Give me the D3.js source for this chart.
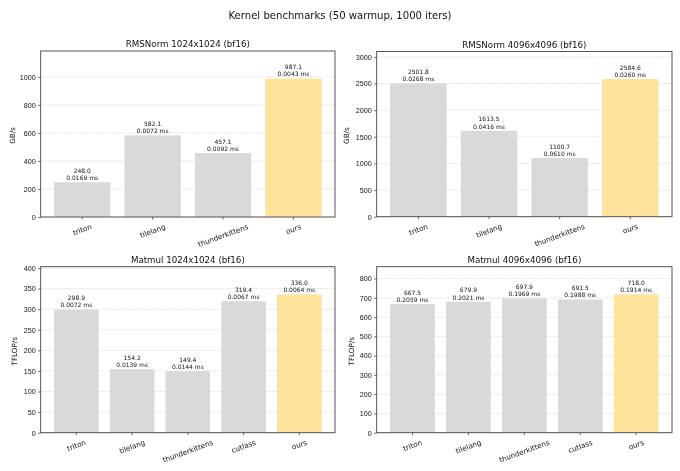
<!DOCTYPE html>
<html>
  <head>
    <meta charset="UTF-8" />
    <script src="https://cdnjs.cloudflare.com/ajax/libs/d3/7.8.5/d3.min.js"></script>
    <style>
      body { margin: 0; background: #fff; }
      svg { display: block; font-family: "DejaVu Sans", sans-serif; will-change: transform; }
      text { fill: #111; }
      .domain { stroke: none; }
      .grid line { stroke: #d4d4d4; stroke-dasharray: 2.2, 1; stroke-width: 0.6; }
      .frame { fill: none; stroke: #444; stroke-width: 0.9; }
    </style>
  </head>
  <body>
    <svg id="fig" width="680" height="471"></svg>
    <script>
      const rmsKernels = ["triton", "tilelang", "thunderkittens", "ours"];
      const mmKernels = ["triton", "tilelang", "thunderkittens", "cutlass", "ours"];

      const rms1kGbs = [248.0, 582.1, 457.1, 987.1];
      const rms1kMs = [0.0169, 0.0072, 0.0092, 0.0043];
      const rms4kGbs = [2501.8, 1613.5, 1100.7, 2584.6];
      const rms4kMs = [0.0268, 0.0416, 0.061, 0.026];
      const mm1kTflops = [298.9, 154.2, 149.4, 319.4, 336.0];
      const mm1kMs = [0.0072, 0.0139, 0.0144, 0.0067, 0.0064];
      const mm4kTflops = [667.5, 679.9, 697.9, 691.5, 718.0];
      const mm4kMs = [0.2059, 0.2021, 0.1969, 0.1988, 0.1914];

      const rms1kTicks = [0, 200, 400, 600, 800, 1000];
      const rms4kTicks = [0, 500, 1000, 1500, 2000, 2500, 3000];
      const mm1kTicks = [0, 50, 100, 150, 200, 250, 300, 350, 400];
      const mm4kTicks = [0, 100, 200, 300, 400, 500, 600, 700, 800];

      const svg = d3.select("#fig");

      svg.append("text")
        .attr("x", 340).attr("y", 15)
        .attr("text-anchor", "middle")
        .attr("dominant-baseline", "central")
        .style("font-size", "10.1px")
        .text("Kernel benchmarks (50 warmup, 1000 iters)");

      function panel(box, title, ylabel, labelX, cats, vals, times, ticks) {
        const g = svg.append("g");
        const n = cats.length;
        const x = d3.scaleBand()
          .domain(cats)
          .range([box.x0, box.x1])
          .paddingInner(0.2)
          .paddingOuter(0.05 * (n - 0.2));
        const y = d3.scaleLinear()
          .domain([0, d3.max(vals) * 1.2])
          .range([box.y1, box.y0]);

        // grid below the bars
        g.append("g")
          .attr("class", "grid")
          .selectAll("line")
          .data(ticks)
          .join("line")
          .attr("x1", box.x0).attr("x2", box.x1)
          .attr("y1", d => y(d)).attr("y2", d => y(d));

        g.selectAll("rect.bar")
          .data(cats)
          .join("rect")
          .attr("class", "bar")
          .attr("x", d => x(d))
          .attr("width", x.bandwidth())
          .attr("y", (d, i) => y(vals[i]))
          .attr("height", (d, i) => box.y1 - y(vals[i]))
          .attr("fill", d => d === "ours" ? "#fee39c" : "#d9d9d9");

        const lbl = g.selectAll("text.val")
          .data(cats)
          .join("text")
          .attr("class", "val")
          .attr("text-anchor", "middle")
          .style("font-size", "6px");
        lbl.append("tspan")
          .attr("x", d => x(d) + x.bandwidth() / 2)
          .attr("y", (d, i) => y(vals[i]) - 9.4)
          .text((d, i) => vals[i].toFixed(1));
        lbl.append("tspan")
          .attr("x", d => x(d) + x.bandwidth() / 2)
          .attr("y", (d, i) => y(vals[i]) - 2.2)
          .text((d, i) => times[i].toFixed(4) + " ms");

        g.append("rect")
          .attr("class", "frame")
          .attr("x", box.x0).attr("y", box.y0)
          .attr("width", box.x1 - box.x0).attr("height", box.y1 - box.y0);

        const yAxis = g.append("g")
          .attr("transform", `translate(${box.x0},0)`)
          .call(d3.axisLeft(y).tickValues(ticks).tickFormat(d3.format("d"))
            .tickSize(2.5).tickPadding(2.5));
        yAxis.selectAll("line").attr("stroke", "#444").attr("stroke-width", 0.8);
        yAxis.selectAll("text").style("font-size", "7.2px").attr("fill", "#111");

        const xAxis = g.append("g")
          .attr("transform", `translate(0,${box.y1})`)
          .call(d3.axisBottom(x).tickSize(2.5).tickFormat(""));
        xAxis.selectAll("line").attr("stroke", "#444").attr("stroke-width", 0.8);

        // rotated category labels, bbox centred under the tick
        const rot = 20 * Math.PI / 180;
        g.selectAll("text.cat")
          .data(cats)
          .join("text")
          .attr("class", "cat")
          .attr("text-anchor", "middle")
          .attr("dominant-baseline", "central")
          .style("font-size", "7.2px")
          .text(d => d)
          .each(function (d) {
            const L = this.getComputedTextLength();
            const h = 8.4;
            const bh = L * Math.sin(rot) + h * Math.cos(rot);
            const cx = x(d) + x.bandwidth() / 2;
            const cy = box.y1 + 5.5 + bh / 2;
            d3.select(this)
              .attr("x", cx).attr("y", cy)
              .attr("transform", `rotate(-20,${cx},${cy})`);
          });

        g.append("text")
          .attr("x", (box.x0 + box.x1) / 2)
          .attr("y", box.y0 - 7)
          .attr("text-anchor", "middle")
          .attr("dominant-baseline", "central")
          .style("font-size", "8.7px")
          .text(title);

        const cy = (box.y0 + box.y1) / 2 + 1.5;
        g.append("text")
          .attr("x", labelX).attr("y", cy)
          .attr("text-anchor", "middle")
          .attr("dominant-baseline", "central")
          .attr("transform", `rotate(-90,${labelX},${cy})`)
          .style("font-size", "7.2px")
          .text(ylabel);
      }

      panel({ x0: 40.7, x1: 335, y0: 51, y1: 217 },
        "RMSNorm 1024x1024 (bf16)", "GB/s", 12, rmsKernels, rms1kGbs, rms1kMs, rms1kTicks);
      panel({ x0: 376.7, x1: 672, y0: 51.5, y1: 216.7 },
        "RMSNorm 4096x4096 (bf16)", "GB/s", 347, rmsKernels, rms4kGbs, rms4kMs, rms4kTicks);
      panel({ x0: 40.7, x1: 335, y0: 266.7, y1: 432.7 },
        "Matmul 1024x1024 (bf16)", "TFLOP/s", 15, mmKernels, mm1kTflops, mm1kMs, mm1kTicks);
      panel({ x0: 376.7, x1: 672, y0: 266.7, y1: 432.7 },
        "Matmul 4096x4096 (bf16)", "TFLOP/s", 352, mmKernels, mm4kTflops, mm4kMs, mm4kTicks);
    </script>
  </body>
</html>
